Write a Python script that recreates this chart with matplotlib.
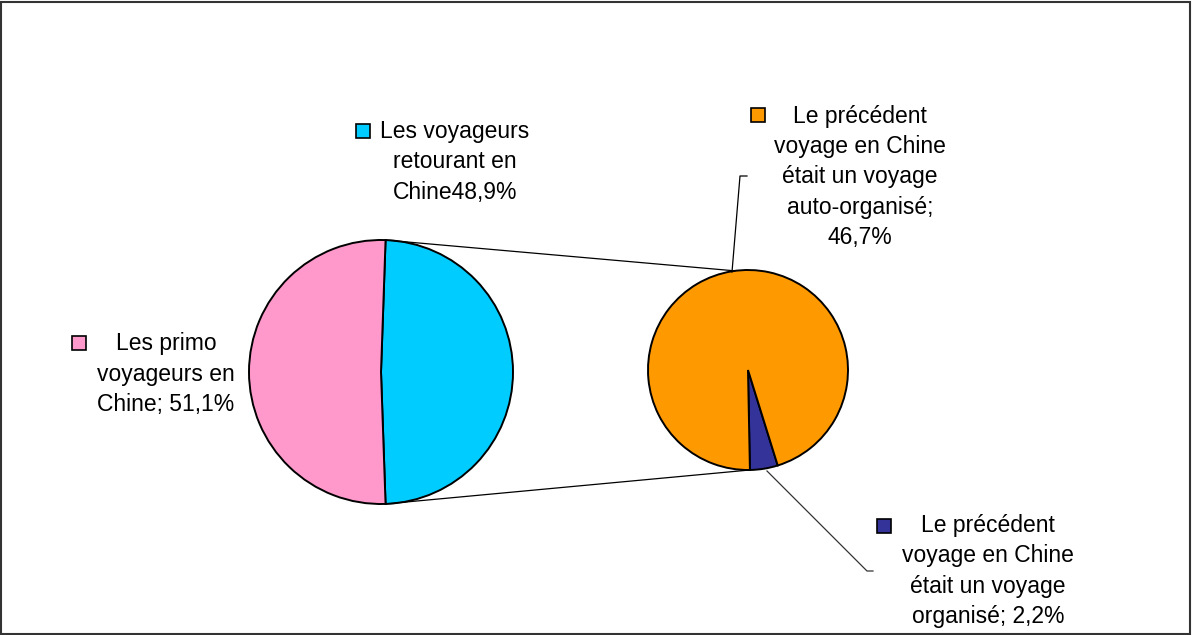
import matplotlib
matplotlib.use("Agg")
import matplotlib.pyplot as plt
from matplotlib.patches import Rectangle
import numpy as np

plt.rcParams['font.family'] = ['Liberation Sans', 'DejaVu Sans']

# ---- data ----
main_labels = ["Les primo\nvoyageurs en\nChine; 51,1%", "Les voyageurs\nretourant en\nChine48,9%"]
main_values = [51.1, 48.9]
sub_labels = ["Le précédent\nvoyage en Chine\nétait un voyage\nauto-organisé;\n46,7%",
              "Le précédent\nvoyage en Chine\nétait un voyage\norganisé; 2,2%"]
sub_values = [46.7, 2.2]

pink = "#FF99CC"
cyan = "#00CCFF"
orange = "#FF9900"
navy = "#333399"

W, H = 1192, 635
fig = plt.figure(figsize=(W / 100, H / 100), dpi=100)
ax = fig.add_axes([0, 0, 1, 1])
ax.set_xlim(0, W)
ax.set_ylim(0, H)
ax.set_aspect('equal')
ax.axis('off')

def Y(y):
    return H - y

# main pie: second part (returning travellers) centred on 0 deg
c1 = (381, Y(372)); r1 = 132
ang_ret = main_values[1] / sum(main_values) * 360
start1 = -ang_ret / 2
ax.pie([main_values[1], main_values[0]], colors=[cyan, pink], startangle=start1,
       counterclock=True, center=c1, radius=r1, frame=True,
       wedgeprops=dict(edgecolor='black', linewidth=1.4))

# secondary pie
c2 = (748, Y(370)); r2 = 100
start2 = -88.9
ax.pie([sub_values[1], sub_values[0]], colors=[navy, orange], startangle=start2,
       counterclock=True, center=c2, radius=r2, frame=True,
       wedgeprops=dict(edgecolor='black', linewidth=1.4))
ax.set_xlim(0, W)
ax.set_ylim(0, H)
ax.axis('off')

# connector lines
def pt(c, r, a):
    return (c[0] + r * np.cos(np.radians(a)), c[1] + r * np.sin(np.radians(a)))

top1 = pt(c1, r1, -start1)
bot1 = pt(c1, r1, start1)
top2 = pt(c2, r2, 97.5)
bot2 = pt(c2, r2, start2)
ax.plot([top1[0], top2[0]], [top1[1], top2[1]], color='black', lw=0.9)
ax.plot([bot1[0], bot2[0]], [bot1[1], bot2[1]], color='black', lw=0.9)

# leader lines
ax.plot([732, 740, 747], [Y(272), Y(176), Y(176)], color='black', lw=0.9)
ax.plot([767, 867, 873], [Y(471), Y(571), Y(571)], color='#333333', lw=0.9)

fs = 16.5
ls = 1.4
def label(x, y, text, mx, my, col):
    ax.text(x, Y(y), text, ha='center', va='center', fontsize=fs,
            linespacing=ls, color='black', multialignment='center')
    ax.add_patch(Rectangle((mx, Y(my) - 14), 14, 14, facecolor=col,
                           edgecolor='black', linewidth=1.2))

label(166, 374, main_labels[0], 72, 336, pink)
label(455, 162, main_labels[1], 356, 124, cyan)
label(860, 177, sub_labels[0], 751, 108, orange)
label(988, 571, sub_labels[1], 877, 519, navy)

# frame
fig.add_artist(Rectangle((0.5 / W, 1.5 / H), (W - 2.5) / W, (H - 3) / H,
                         transform=fig.transFigure, fill=False,
                         edgecolor='#333333', linewidth=1.5))

fig.savefig("out.png", dpi=100)
